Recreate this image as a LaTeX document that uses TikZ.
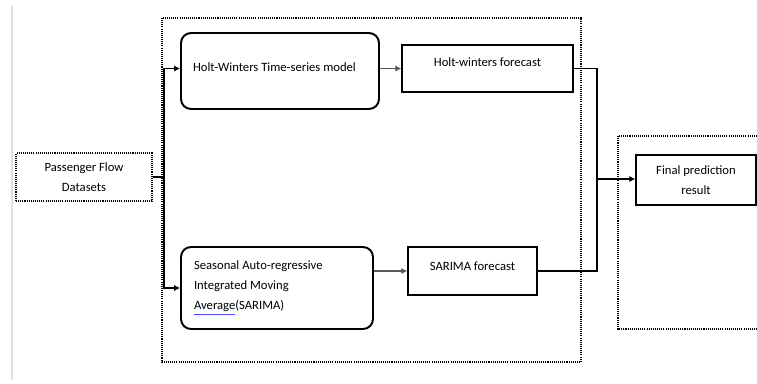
\documentclass[tikz,border=0pt]{standalone}
\usepackage{fontspec}
\setmainfont{Carlito}
\usepackage{xcolor}
\usetikzlibrary{arrows.meta}

\tikzset{
    dotbox/.style={draw, line width=0.8pt, dash pattern=on 0.6pt off 0.6pt},
    roundbox/.style={draw, line width=1.1pt, rounded corners=0.2cm, align=flush left},
    plainbox/.style={draw, line width=0.85pt, align=center},
    link/.style={line width=0.6pt, -{Latex[length=3.4pt,width=3.6pt]}}
}

\begin{document}
\begin{tikzpicture}[x=0.02cm, y=-0.02cm, font=\fontsize{7.2}{11.4}\selectfont, inner sep=0pt]
        \useasboundingbox (0,0) rectangle (757,383);
        % page edge and the two frames
        \draw[gray!25, line width=1.2pt] (12,6) -- (12,380);
        \draw[dotbox] (162,18) rectangle (581,362);
        \draw[dotbox] (757,136) -- (618,136) -- (618,329) -- (757,329);

        % the boxes
        \node[dotbox, align=center, minimum width=2.72cm, minimum height=0.96cm] (data) at (84,177) {Passenger Flow\\Datasets};
        \node[roundbox, text width=3.48cm, inner xsep=0.24cm, minimum height=1.52cm, text depth=4pt] (hw) at (280,71) {Holt-Winters Time-series model};
        \node[roundbox, text width=3.32cm, inner xsep=0.26cm, minimum height=1.64cm] (sar) at (277,288) {Seasonal Auto-regressive\\Integrated Moving\\{\color{blue!70}\underline{\color{black}Average}}(SARIMA)};
        \node[plainbox, minimum width=3.42cm, minimum height=0.94cm, text depth=7.5pt] (hwf) at (487.5,68.5) {Holt-winters forecast};
        \node[plainbox, minimum width=2.58cm, minimum height=0.96cm, text depth=6pt] (sarf) at (472.5,271) {SARIMA forecast};
        \node[plainbox, minimum width=2.4cm, minimum height=1cm] (final) at (696,180) {Final prediction\\result};

        % split and merge points
        \coordinate (split) at (164,177);
        \coordinate (merge) at (597,179);

        \draw[line width=0.6pt] (data.east) -- (split);
        \draw[link, line width=1pt] (split) |- (hw.west |- hwf.west);
        \draw[link, line width=1pt] (split) |- (sar.west);
        \draw[link, gray!70!black] (hw.east |- hwf.west) -- (hwf.west);
        \draw[link, gray!70!black] (sar.east |- sarf.west) -- (sarf.west);
        \draw[line width=0.85pt] (hwf.east) -| (merge);
        \draw[line width=0.85pt] (sarf.east) -| (merge);
        \draw[link] (merge) -- (final.west |- merge);
\end{tikzpicture}
\end{document}
